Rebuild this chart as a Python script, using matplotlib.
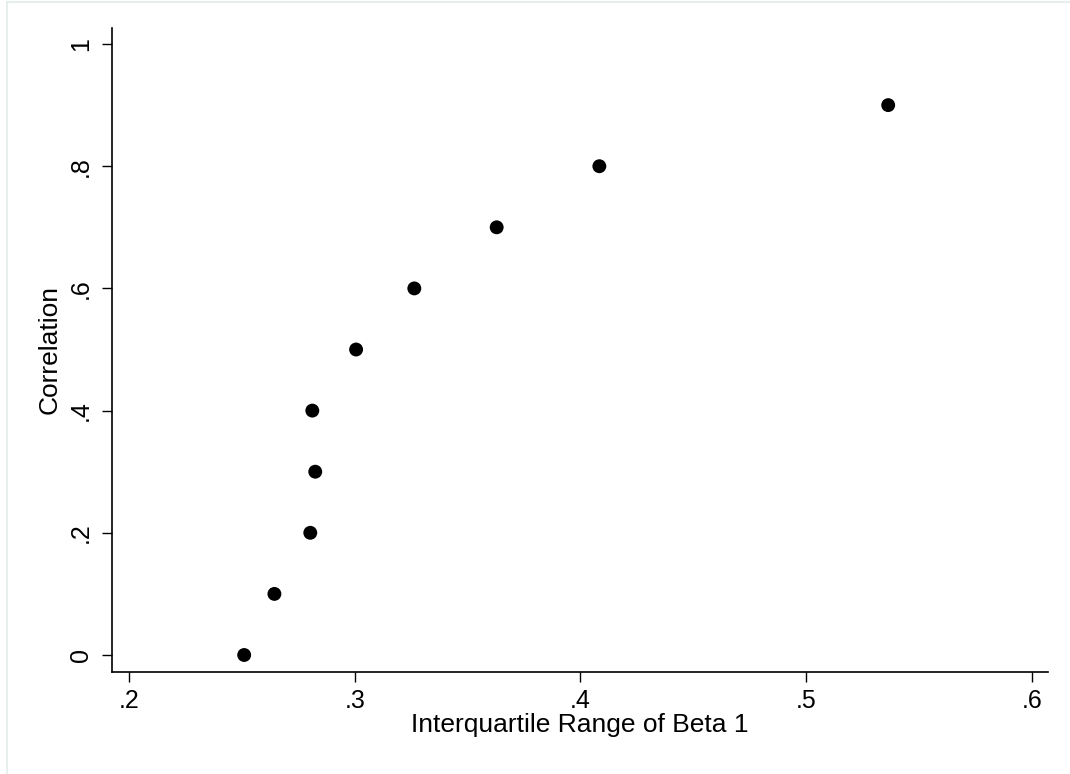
import numpy as np
import matplotlib.pyplot as plt
from matplotlib.lines import Line2D

plt.rcParams['font.family'] = ['Liberation Sans', 'DejaVu Sans']

# IQR of beta 1 for each correlation level
korrelasjon = [0.0, 0.1, 0.2, 0.3, 0.4, 0.5, 0.6, 0.7, 0.8, 0.9]
iqr_beta1 = [0.2510, 0.2644, 0.2803, 0.2825, 0.2812, 0.3006, 0.3264, 0.3629, 0.4084, 0.5364]

x_ticks = [0.2, 0.3, 0.4, 0.5, 0.6]
x_labels = ['.2', '.3', '.4', '.5', '.6']
y_ticks = [0, 0.2, 0.4, 0.6, 0.8, 1.0]
y_labels = ['0', '.2', '.4', '.6', '.8', '1']

fig = plt.figure(figsize=(10.7, 7.74), dpi=100, facecolor='white')
ax = fig.add_axes([0.1044, 0.1322, 0.875, 0.832])

ax.scatter(iqr_beta1, korrelasjon, s=100, color='black', edgecolors='none', zorder=3)

ax.set_xlim(0.1923, 0.6072)
ax.set_ylim(-0.0273, 1.0267)
ax.set_xticks(x_ticks)
ax.set_xticklabels(x_labels)
ax.set_yticks(y_ticks)
ax.set_yticklabels(y_labels, rotation=90, va='center')

for side in ['top', 'right']:
    ax.spines[side].set_visible(False)
for side in ['left', 'bottom']:
    ax.spines[side].set_linewidth(1.2)

ax.tick_params(axis='both', length=7.5, width=1.0, labelsize=18, pad=5)
ax.tick_params(axis='y', pad=6)

ax.set_xlabel('Interquartile Range of Beta 1', fontsize=19, labelpad=0)
ax.set_ylabel('Correlation', fontsize=19, labelpad=5)

# svak ramme rundt grafen
farge = '#e6eeee'
fig.add_artist(Line2D([7 / 1070, 7 / 1070], [0, 1 - 2 / 774], transform=fig.transFigure, color=farge, lw=1.5))
fig.add_artist(Line2D([7 / 1070, 1], [1 - 2 / 774, 1 - 2 / 774], transform=fig.transFigure, color=farge, lw=1.5))

fig.savefig('out.png', dpi=100, facecolor='white')
